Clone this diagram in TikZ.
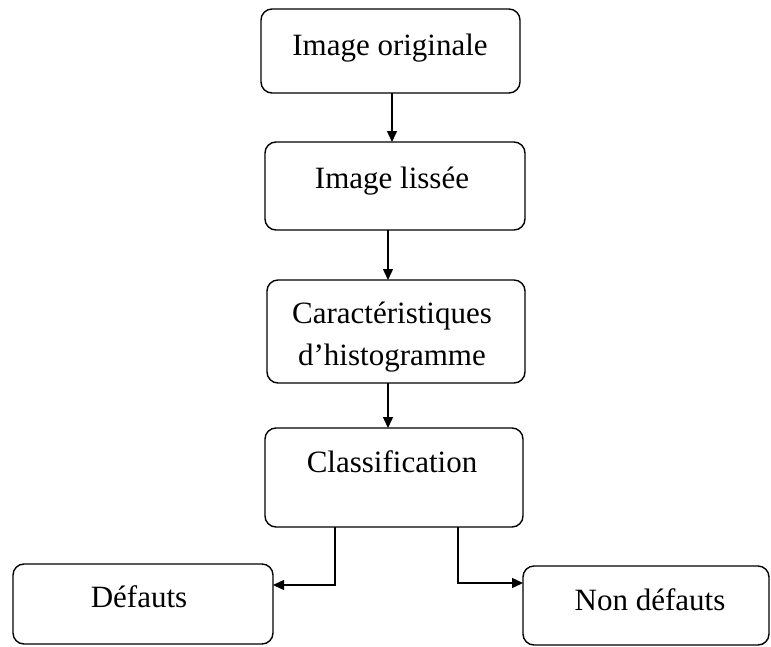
\documentclass[tikz,border=0pt]{standalone}
\usepackage{fontspec}
\setmainfont{Liberation Serif}
\usetikzlibrary{arrows.meta}
\begin{document}
\begin{tikzpicture}[x=1pt,y=-1pt,
  box/.style={draw,line width=1.4pt,rounded corners=11pt,inner sep=0pt,outer sep=0pt},
  lbl/.style={font=\fontsize{31}{36}\selectfont,anchor=base,inner sep=0pt},
  conn/.style={line width=1.4pt,-{Triangle[length=11pt,width=10pt]}}]
\useasboundingbox (0,0) rectangle (771,646);
\node[box,minimum width=259pt,minimum height=84pt] (b1) at (390.5,51) {};
\node[box,minimum width=260pt,minimum height=88pt] (b2) at (395,186) {};
\node[box,minimum width=258pt,minimum height=103pt] (b3) at (396,331.5) {};
\node[box,minimum width=258pt,minimum height=99pt] (b4) at (394,477.5) {};
\node[box,minimum width=260pt,minimum height=80pt] (b5) at (143,604) {};
\node[box,minimum width=246pt,minimum height=79pt] (b6) at (646,605.5) {};
\node[lbl] (t1) at (390,55) {Image originale};
\node[lbl] (t2) at (392,188) {Image lissée};
\node[lbl] (t3a) at (392,323) {Caractéristiques};
\node[lbl] (t3b) at (392,365) {d’histogramme};
\node[lbl] (t4) at (392,472) {Classification};
\node[lbl] (t5) at (139,607) {Défauts};
\node[lbl] (t6) at (650,610) {Non défauts};
\draw[conn] ([xshift=1.5pt]b1.south) -- ([xshift=1.5pt]b1.south |- b2.north);
\draw[conn] ([xshift=-7pt]b2.south) -- ([xshift=-7pt]b2.south |- b3.north);
\draw[conn] ([xshift=-8pt]b3.south) -- ([xshift=-8pt]b3.south |- b4.north);
\draw[conn] ([xshift=-59pt]b4.south) |- ([yshift=19pt]b5.east);
\draw[conn] ([xshift=64pt]b4.south) |- ([yshift=22.5pt]b6.west);
\end{tikzpicture}
\end{document}
